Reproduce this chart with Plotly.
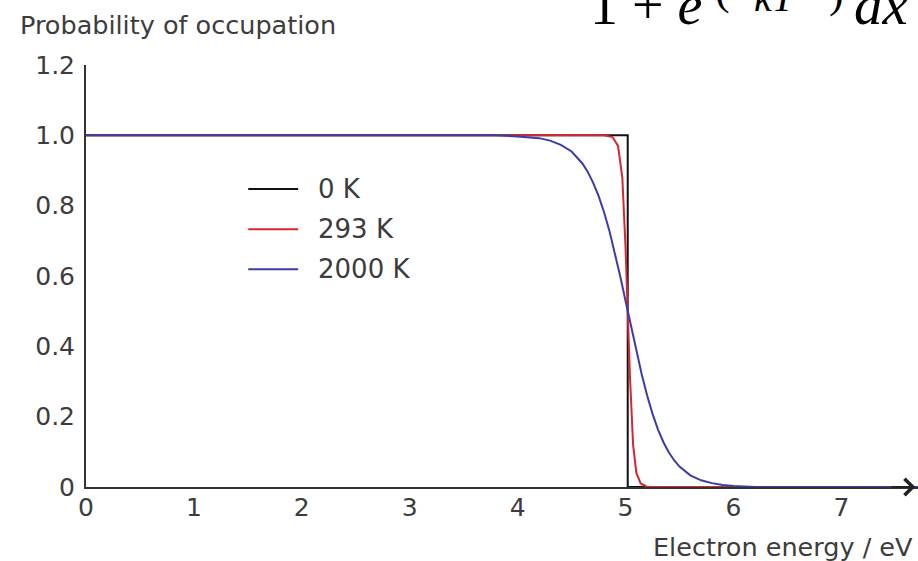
import plotly.graph_objects as go

# Fermi-Dirac occupation probability vs electron energy (Fermi level ~5 eV)
series_names = ["0 K", "293 K", "2000 K"]
series_colors = ["#111111", "#d8262e", "#3a3da6"]

energy_0k = [0.0, 5.02, 5.02, 7.71]
occup_0k = [1.0, 1.0, 0.0, 0.0]

energy_293k = [0.0, 4.80, 4.88, 4.93, 4.97, 5.00, 5.02, 5.04, 5.07, 5.10, 5.14, 5.20, 7.71]
occup_293k = [1.0, 1.0, 0.995, 0.97, 0.88, 0.68, 0.50, 0.32, 0.12, 0.04, 0.01, 0.0, 0.0]

energy_2000k = [0.0, 3.8, 4.0, 4.1, 4.2, 4.3, 4.4, 4.5, 4.6, 4.65, 4.7, 4.75, 4.8, 4.85,
                4.9, 4.95, 5.0, 5.05, 5.1, 5.15, 5.2, 5.25, 5.3, 5.35, 5.4, 5.45,
                5.5, 5.6, 5.7, 5.8, 5.9, 6.0, 6.2, 7.71]
occup_2000k = [1.0, 1.0, 0.997, 0.995, 0.992, 0.985, 0.973, 0.954, 0.92, 0.896, 0.865, 0.828,
               0.782, 0.729, 0.668, 0.600, 0.529, 0.457, 0.386, 0.320, 0.26, 0.208, 0.164,
               0.128, 0.099, 0.076, 0.058, 0.033, 0.019, 0.011, 0.006, 0.003, 0.0, 0.0]

x_ticks = [0, 1, 2, 3, 4, 5, 6, 7]
y_ticks = [0, 0.2, 0.4, 0.6, 0.8, 1.0, 1.2]
y_tick_text = ["0", "0.2", "0.4", "0.6", "0.8", "1.0", "1.2"]

FONT = "DejaVu Sans"
SERIF = "Liberation Serif"
TXT = "#3c3c3c"

fig = go.Figure()
curves = [(energy_0k, occup_0k), (energy_293k, occup_293k), (energy_2000k, occup_2000k)]
for (xs, ys), name, color in zip(curves, series_names, series_colors):
    fig.add_trace(go.Scatter(
        x=xs, y=ys, mode="lines", name=name,
        line=dict(color=color, width=2),
        showlegend=False, hoverinfo="skip",
    ))

# hand-drawn style legend: short line + label
legend_y = [0.706, 0.611, 0.516]
for name, color, ly in zip(series_names, series_colors, legend_y):
    fig.add_shape(type="line", xref="paper", yref="paper",
                  x0=0.195, x1=0.255, y0=ly, y1=ly,
                  line=dict(color=color, width=2))
    fig.add_annotation(xref="paper", yref="paper", x=0.276, y=ly,
                       xanchor="left", yanchor="middle", showarrow=False,
                       text=name, font=dict(family=FONT, size=26, color=TXT))

# arrow head at the end of the energy axis
fig.add_annotation(x=7.685, y=0, ax=7.45, ay=0, xref="x", yref="y",
                   axref="x", ayref="y", showarrow=True, arrowhead=4,
                   arrowsize=1.6, arrowwidth=2, arrowcolor="#222222", text="")

# axis titles
fig.add_annotation(xref="paper", yref="paper", x=-0.082, y=1.095,
                   xanchor="left", yanchor="middle", showarrow=False,
                   text="Probability of occupation",
                   font=dict(family=FONT, size=25.5, color=TXT))
fig.add_annotation(xref="paper", yref="paper", x=0.996, y=-0.142,
                   xanchor="right", yanchor="middle", showarrow=False,
                   text="Electron energy / eV",
                   font=dict(family=FONT, size=25.5, color=TXT))

# fragment of the distribution formula above the chart: 1 + e^( .. kT .. ) dx
formula_parts = [
    ("1 + <i>e</i>", 0.6034, 1.064, 56),
    ("(", 0.7536, 1.117, 44),
    ("<i>kT</i>", 0.8005, 1.103, 40),
    (")", 0.8906, 1.110, 44),
    ("<i>dx</i>", 0.9207, 1.064, 57),
]
for txt, fx, fy, fs in formula_parts:
    fig.add_annotation(xref="paper", yref="paper", x=fx, y=fy,
                       xanchor="left", yanchor="bottom", showarrow=False,
                       text=txt, font=dict(family=SERIF, size=fs, color="#000000"))

fig.update_xaxes(range=[0, 7.71], tickvals=x_ticks, showgrid=False, zeroline=False,
                 showline=True, linecolor="#333333", linewidth=2, ticks="",
                 ticklabelstandoff=-3,
                 tickfont=dict(family=FONT, size=25, color=TXT))
fig.update_yaxes(range=[0, 1.2], tickvals=y_ticks, ticktext=y_tick_text,
                 showgrid=False, zeroline=False, showline=True,
                 linecolor="#333333", linewidth=2, ticks="",
                 ticklabelstandoff=4,
                 tickfont=dict(family=FONT, size=25, color=TXT))

fig.update_layout(width=918, height=561,
                  margin=dict(l=86, r=0, t=65, b=74),
                  plot_bgcolor="white", paper_bgcolor="white",
                  showlegend=False)

fig.write_html("out.html")
